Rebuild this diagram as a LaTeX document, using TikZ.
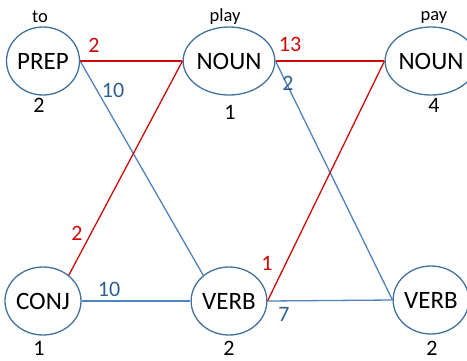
\documentclass[tikz,border=0pt]{standalone}
\usepackage{fontspec}
\setmainfont{Carlito}
\usetikzlibrary{shapes.geometric}
\definecolor{ringblue}{HTML}{41719C}
\definecolor{lineblue}{HTML}{4F81BD}
\definecolor{labblue}{HTML}{2F5E91}
\definecolor{myred}{HTML}{CC0A0A}
\tikzset{
  tag/.style={ellipse, draw=ringblue, line width=1.3pt, minimum width=72pt, minimum height=68pt, inner sep=0pt, font=\fontsize{25}{27}\selectfont},
  redline/.style={draw=myred, line width=1.3pt},
  blueline/.style={draw=lineblue, line width=1.3pt},
  redlab/.style={text=myred, font=\fontsize{22}{24}\selectfont, inner sep=0pt},
  bluelab/.style={text=labblue, font=\fontsize{22}{24}\selectfont, inner sep=0pt},
  numlab/.style={font=\fontsize{22}{24}\selectfont, inner sep=0pt},
  wordlab/.style={font=\fontsize{18.5}{20}\selectfont, inner sep=0pt}
}
\begin{document}
\begin{tikzpicture}[x=1pt,y=-1pt]
\useasboundingbox (0,0) rectangle (467,360);
\node[tag] (prep) at (43,61) {PREP};
\node[tag] (noun1) at (229,61) {NOUN};
\node[tag] (noun2) at (431,61) {NOUN};
\node[tag] (conj) at (43,301) {CONJ};
\node[tag] (verb1) at (229,301) {VERB};
\node[tag] (verb2) at (431,300) {VERB};

\draw[blueline] (prep.east) -- (verb1.135);
\draw[blueline] (noun1.east) -- (verb2.west);
\draw[blueline] (conj.east) -- (verb1.west);
\draw[blueline] (verb1.east) -- (verb2.west);
\draw[redline] (prep.east) -- (noun1.west);
\draw[redline] (conj.45) -- (noun1.west);
\draw[redline] (noun1.east) -- (noun2.west);
\draw[redline] (verb1.east) -- (noun2.west);

\node[redlab] (l1) at (94,45) {2};
\node[bluelab] (l2) at (113,90) {10};
\node[redlab] (l3) at (290,44) {13};
\node[bluelab] (l4) at (288,83) {2};
\node[redlab] (l5) at (77,233) {2};
\node[bluelab] (l6) at (109,289) {10};
\node[redlab] (l7) at (267,263) {1};
\node[bluelab] (l8) at (284,314) {7};

\node[wordlab] (w1) at (40,17) {to};
\node[wordlab] (w2) at (225,17) {play};
\node[wordlab] (w3) at (434,17) {pay};

\node[numlab] (n1) at (39,105) {2};
\node[numlab] (n2) at (230,112) {1};
\node[numlab] (n3) at (434,105) {4};
\node[numlab] (n4) at (39,348) {1};
\node[numlab] (n5) at (229,348) {2};
\node[numlab] (n6) at (432,348) {2};
\end{tikzpicture}
\end{document}
